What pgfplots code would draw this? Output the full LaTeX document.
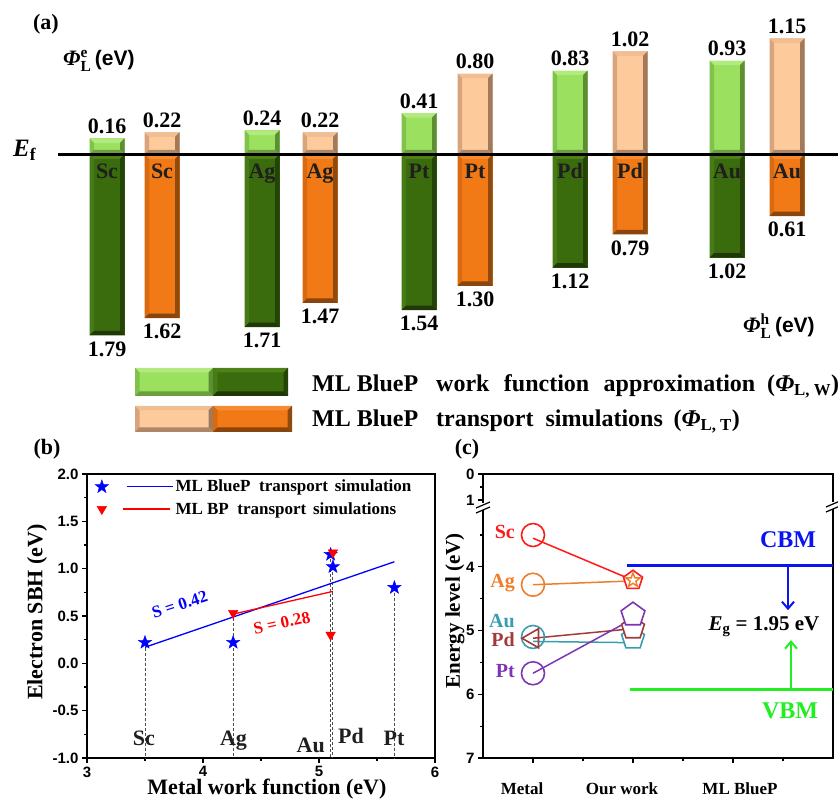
\documentclass[border=0pt]{standalone}
\usepackage{fontspec}
\setmainfont{Liberation Serif}
\setsansfont{Liberation Sans}
\usepackage{amsmath}
\usepackage{pgfplots}
\pgfplotsset{compat=1.18}
\usetikzlibrary{arrows.meta,plotmarks}

% bevelled bar colours: face, top, left, right, bottom
\definecolor{lgF}{HTML}{9BE05E}\definecolor{lgT}{HTML}{B2EA80}\definecolor{lgL}{HTML}{80C24C}\definecolor{lgR}{HTML}{5D8E36}\definecolor{lgB}{HTML}{6A9E3E}
\definecolor{dgF}{HTML}{3A6B0C}\definecolor{dgT}{HTML}{4E8219}\definecolor{dgL}{HTML}{477B15}\definecolor{dgR}{HTML}{244306}\definecolor{dgB}{HTML}{1E3905}
\definecolor{pkF}{HTML}{FDCB9B}\definecolor{pkT}{HTML}{F0BE92}\definecolor{pkL}{HTML}{D8A47E}\definecolor{pkR}{HTML}{A17A5B}\definecolor{pkB}{HTML}{B08766}
\definecolor{orF}{HTML}{F27A16}\definecolor{orT}{HTML}{F58C34}\definecolor{orL}{HTML}{DA6A10}\definecolor{orR}{HTML}{8F4A10}\definecolor{orB}{HTML}{8A440C}
% metal colours
\definecolor{cSc}{HTML}{FF1A1A}\definecolor{cAg}{HTML}{F07D28}\definecolor{cAu}{HTML}{3A9DAE}
\definecolor{cPd}{HTML}{A33A3A}\definecolor{cPt}{HTML}{7B35B5}
\definecolor{cCBM}{HTML}{0A14F0}\definecolor{cVBM}{HTML}{22EE22}

\newlength\bv
\setlength\bv{4.5pt}
\tikzset{
  bevel/.style n args={5}{fill=#1, draw=none,
    path picture={
      \fill[path picture={}, #2] (path picture bounding box.north west) -- (path picture bounding box.north east)
         -- ([shift={(-\bv,-\bv)}]path picture bounding box.north east)
         -- ([shift={(\bv,-\bv)}]path picture bounding box.north west) -- cycle;
      \fill[path picture={}, #3] (path picture bounding box.north west) -- ([shift={(\bv,-\bv)}]path picture bounding box.north west)
         -- ([shift={(\bv,\bv)}]path picture bounding box.south west) -- (path picture bounding box.south west) -- cycle;
      \fill[path picture={}, #4] (path picture bounding box.north east) -- (path picture bounding box.south east)
         -- ([shift={(-\bv,\bv)}]path picture bounding box.south east)
         -- ([shift={(-\bv,-\bv)}]path picture bounding box.north east) -- cycle;
      \fill[path picture={}, #5] (path picture bounding box.south west) -- (path picture bounding box.south east)
         -- ([shift={(-\bv,\bv)}]path picture bounding box.south east)
         -- ([shift={(\bv,\bv)}]path picture bounding box.south west) -- cycle;
    }},
  lgbar/.style={bevel={lgF}{lgT}{lgL}{lgR}{lgB}},
  dgbar/.style={bevel={dgF}{dgT}{dgL}{dgR}{dgB}},
  pkbar/.style={bevel={pkF}{pkT}{pkL}{pkR}{pkB}},
  orbar/.style={bevel={orF}{orT}{orL}{orR}{orB}},
  vlab/.style={font=\fontsize{22}{22}\selectfont\bfseries, inner sep=0pt},
  mlab/.style={font=\fontsize{22}{22}\selectfont\bfseries, inner sep=0pt, text=black!88},
  plab/.style={font=\fontsize{22}{22}\selectfont\bfseries, inner sep=0pt},
}

% filled and open five-pointed stars
\pgfdeclareplotmark{fstar}{%
  \pgfpathmoveto{\pgfpointpolar{90}{\pgfplotmarksize}}%
  \pgfpathlineto{\pgfpointpolar{126}{0.4\pgfplotmarksize}}%
  \pgfpathlineto{\pgfpointpolar{162}{\pgfplotmarksize}}%
  \pgfpathlineto{\pgfpointpolar{198}{0.4\pgfplotmarksize}}%
  \pgfpathlineto{\pgfpointpolar{234}{\pgfplotmarksize}}%
  \pgfpathlineto{\pgfpointpolar{270}{0.4\pgfplotmarksize}}%
  \pgfpathlineto{\pgfpointpolar{306}{\pgfplotmarksize}}%
  \pgfpathlineto{\pgfpointpolar{342}{0.4\pgfplotmarksize}}%
  \pgfpathlineto{\pgfpointpolar{18}{\pgfplotmarksize}}%
  \pgfpathlineto{\pgfpointpolar{54}{0.4\pgfplotmarksize}}%
  \pgfpathclose\pgfusepathqfillstroke}
\pgfdeclareplotmark{ostar}{%
  \pgfpathmoveto{\pgfpointpolar{90}{\pgfplotmarksize}}%
  \pgfpathlineto{\pgfpointpolar{126}{0.4\pgfplotmarksize}}%
  \pgfpathlineto{\pgfpointpolar{162}{\pgfplotmarksize}}%
  \pgfpathlineto{\pgfpointpolar{198}{0.4\pgfplotmarksize}}%
  \pgfpathlineto{\pgfpointpolar{234}{\pgfplotmarksize}}%
  \pgfpathlineto{\pgfpointpolar{270}{0.4\pgfplotmarksize}}%
  \pgfpathlineto{\pgfpointpolar{306}{\pgfplotmarksize}}%
  \pgfpathlineto{\pgfpointpolar{342}{0.4\pgfplotmarksize}}%
  \pgfpathlineto{\pgfpointpolar{18}{\pgfplotmarksize}}%
  \pgfpathlineto{\pgfpointpolar{54}{0.4\pgfplotmarksize}}%
  \pgfpathclose\pgfusepathqstroke}

% one metal: x, Phi_e, Phi_h, name, upper style, lower style
\newcommand{\barcol}[6]{%
  \addplot[ybar, bar width=35, bar shift=0pt, #5] coordinates {(#1,#2)};
  \addplot[ybar, bar width=35, bar shift=0pt, #6] coordinates {(#1,-#3)};
  \node[vlab, anchor=base, yshift=5pt] at (axis cs:#1,#2) {#2};
  \node[vlab, anchor=north, yshift=-6pt] at (axis cs:#1,-#3) {#3};
  \node[mlab, anchor=base, yshift=-24.5pt] at (axis cs:#1,0) {#4};
}
\newcommand{\Phib}{\text{\bfseries\itshape Φ}}

\begin{document}
\begin{tikzpicture}[x=1pt,y=1pt]
\useasboundingbox (0,0) rectangle (838,803);

% ---------------- (a) barrier heights ----------------
\begin{axis}[at={(0pt,383pt)}, anchor=south west, scale only axis,
  width=838pt, height=420pt, xmin=0, xmax=838, ymin=-2.62871, ymax=1.52970,
  hide axis, clip=false]
  \barcol{107}{0.16}{1.79}{Sc}{lgbar}{dgbar}
  \barcol{162}{0.22}{1.62}{Sc}{pkbar}{orbar}
  \barcol{262}{0.24}{1.71}{Ag}{lgbar}{dgbar}
  \barcol{320}{0.22}{1.47}{Ag}{pkbar}{orbar}
  \barcol{419}{0.41}{1.54}{Pt}{lgbar}{dgbar}
  \barcol{475}{0.80}{1.30}{Pt}{pkbar}{orbar}
  \barcol{570}{0.83}{1.12}{Pd}{lgbar}{dgbar}
  \barcol{630}{1.02}{0.79}{Pd}{pkbar}{orbar}
  \barcol{727}{0.93}{1.02}{Au}{lgbar}{dgbar}
  \barcol{787}{1.15}{0.61}{Au}{pkbar}{orbar}
  % Fermi level
  \addplot[black, line width=3pt] coordinates {(58,0) (838,0)};
  % legend swatches
  \addplot[lgbar] coordinates {(135,-2.1139)(213,-2.1139)(213,-2.3911)(135,-2.3911)};
  \addplot[dgbar] coordinates {(213,-2.1139)(288,-2.1139)(288,-2.3911)(213,-2.3911)};
  \addplot[pkbar] coordinates {(135,-2.4901)(213,-2.4901)(213,-2.7475)(135,-2.7475)};
  \addplot[orbar] coordinates {(213,-2.4901)(292,-2.4901)(292,-2.7475)(213,-2.7475)};
\end{axis}

\node[plab] at (46,779) {(a)};
\node[plab, anchor=base west] at (63,737) {$\Phib^{\text{\bfseries e}}_{\text{\bfseries L}}$\,{\sffamily\bfseries\fontsize{21}{21}\selectfont (eV)}};
\node[anchor=base west, inner sep=0pt, font=\fontsize{25}{25}\selectfont\bfseries] at (13,646) {\textit{E}$_{\text{\bfseries f}}$};
\node[plab, anchor=base west] at (743,470) {$\Phib^{\text{\bfseries h}}_{\text{\bfseries L}}$\,{\sffamily\bfseries\fontsize{21}{21}\selectfont (eV)}};
\node[anchor=base west, inner sep=0pt, font=\fontsize{24}{24}\selectfont\bfseries] at (312,411)
  {ML BlueP\hspace{0.75em}work\hspace{0.6em}function\hspace{0.6em}approximation\hspace{0.5em}($\Phib_{\text{\bfseries L, W}}$)};
\node[anchor=base west, inner sep=0pt, font=\fontsize{24}{24}\selectfont\bfseries] at (312,376)
  {ML BlueP\hspace{0.75em}transport\hspace{0.5em}simulations\hspace{0.45em}($\Phib_{\text{\bfseries L, T}}$)};

% ---------------- (b) SBH vs metal work function ----------------
\node[plab] at (47,354) {(b)};
\begin{axis}[at={(87pt,45pt)}, anchor=south west, scale only axis,
  width=348pt, height=284pt, xmin=3, xmax=6, ymin=-1, ymax=2,
  xtick={3,4,5,6}, ytick={-1,-0.5,0,0.5,1,1.5,2},
  minor x tick num=1, minor y tick num=1,
  tick align=outside, tick pos=left,
  major tick length=5pt, minor tick length=3pt,
  axis line style={line width=1.5pt},
  every tick/.style={line width=1.2pt, black},
  /pgf/number format/assume math mode=true,
  tick label style={font=\sffamily\bfseries\fontsize{15}{15}\selectfont},
  yticklabel style={/pgf/number format/.cd, fixed, fixed zerofill, precision=1},
  xlabel={Metal work function (eV)},
  ylabel={Electron SBH (eV)},
  label style={font=\fontsize{22}{22}\selectfont\bfseries, inner sep=0pt},
  xlabel style={at={(axis description cs:0.517,-0.11)}, anchor=center},
  ylabel style={at={(axis description cs:-0.1437,0.514)}, anchor=center},
  clip=false,
  legend style={at={(axis description cs:0,1)}, anchor=north west, draw=none, fill=none,
    inner xsep=8pt, inner ysep=4pt, row sep=5pt,
    font=\fontsize{17}{17}\selectfont\bfseries},
  legend cell align=left]
  % drop lines to the work function axis
  \addplot[densely dashed, black!70, line width=0.9pt, forget plot] coordinates {(3.5,0.22)(3.5,-1)};
  \addplot[densely dashed, black!70, line width=0.9pt, forget plot] coordinates {(4.26,0.53)(4.26,-1)};
  \addplot[densely dashed, black!70, line width=0.9pt, forget plot] coordinates {(5.1,1.15)(5.1,-1)};
  \addplot[densely dashed, black!70, line width=0.9pt, forget plot] coordinates {(5.12,1.02)(5.12,-1)};
  \addplot[densely dashed, black!70, line width=0.9pt, forget plot] coordinates {(5.65,0.80)(5.65,-1)};
  % linear fits
  \addplot[blue, line width=1.3pt, forget plot] coordinates {(3.5,0.17)(5.65,1.073)};
  \addplot[red, line width=1.3pt, forget plot] coordinates {(4.26,0.52)(5.12,0.76)};
  % ML BlueP: Sc, Ag, Au, Pd, Pt
  \addplot[only marks, mark=fstar, mark size=7pt, blue, mark options={fill=blue}, forget plot]
    coordinates {(3.5,0.22)(4.26,0.22)(5.1,1.15)(5.12,1.02)(5.65,0.80)};
  % ML BP: Ag, Au, Pd
  \addplot[only marks, mark=triangle*, mark size=5.5pt, red, mark options={rotate=180, fill=red}, forget plot]
    coordinates {(4.26,0.53)(5.1,0.30)(5.12,1.17)};
  \addlegendimage{legend image code/.code={
      \path[mark=fstar, mark size=7pt, mark options={fill=blue, draw=blue}] plot coordinates {(0pt,0pt)};
      \draw[blue, line width=1.3pt] (25pt,0pt) -- (71pt,0pt);}}
  \addlegendentry{ML BlueP\hspace{0.5em}transport\hspace{0.4em}simulation}
  \addlegendimage{legend image code/.code={
      \path[mark=triangle*, mark size=5.5pt, mark options={rotate=180, fill=red, draw=red}] plot coordinates {(0pt,0pt)};
      \draw[red, line width=1.3pt] (21pt,0pt) -- (68pt,0pt);}}
  \addlegendentry{ML BP\hspace{0.5em}transport\hspace{0.4em}simulations}
  % labels
  \node[mlab, anchor=base] at (axis cs:3.49,-0.863) {Sc};
  \node[mlab, anchor=base] at (axis cs:4.263,-0.863) {Ag};
  \node[mlab, anchor=base east] at (axis cs:5.052,-0.947) {Au};
  \node[mlab, anchor=base west] at (axis cs:5.164,-0.842) {Pd};
  \node[mlab, anchor=base] at (axis cs:5.647,-0.863) {Pt};
  \node[blue, rotate=18, inner sep=0pt, font=\fontsize{17}{17}\selectfont\bfseries] at (axis cs:3.80,0.62) {S = 0.42};
  \node[red, rotate=12, inner sep=0pt, font=\fontsize{17}{17}\selectfont\bfseries] at (axis cs:4.68,0.426) {S = 0.28};
\end{axis}

% ---------------- (c) band alignment ----------------
\node[plab] at (467,354) {(c)};
\begin{axis}[at={(483pt,45pt)}, anchor=south west, scale only axis,
  width=350pt, height=284pt, xmin=0, xmax=7, ymin=2.542, ymax=7, y dir=reverse,
  xtick={1,3,5}, minor xtick={2,4,6}, xticklabels={},
  ytick={2.542,2.95,4,5,6,7}, yticklabels={0,1,4,5,6,7},
  minor ytick={2.746,3.5,4.5,5.5,6.5},
  tick align=outside, tick pos=left,
  major tick length=5pt, minor tick length=3pt,
  axis line style={line width=1.5pt},
  every tick/.style={line width=1.2pt, black},
  tick label style={font=\sffamily\bfseries\fontsize{15}{15}\selectfont},
  ylabel={Energy level (eV)},
  ylabel style={font=\fontsize{21}{21}\selectfont\bfseries, at={(axis description cs:-0.08,0.518)}, anchor=center},
  clip=false]
  % band edges of ML BlueP
  \addplot[cCBM, line width=3pt] coordinates {(2.88,3.98)(7,3.98)};
  \addplot[cVBM, line width=3pt] coordinates {(2.94,5.93)(7,5.93)};
  % Fermi levels obtained in this work
  \addplot[only marks, mark=pentagon*, mark size=12pt, cAu, line width=1.6pt, mark options={fill=white}] coordinates {(3,5.12)};
  \addplot[only marks, mark=pentagon*, mark size=12pt, cPd, line width=1.6pt, mark options={fill=white}] coordinates {(3,4.96)};
  \addplot[only marks, mark=pentagon*, mark size=12.5pt, cPt, line width=1.6pt, mark options={fill=white}] coordinates {(3,4.75)};
  \addplot[only marks, mark=pentagon*, mark size=10pt, cSc, line width=1.6pt, mark options={fill=white}] coordinates {(3,4.21)};
  \addplot[only marks, mark=ostar, mark size=7.5pt, cAg, line width=1.4pt] coordinates {(3,4.21)};
  % metal work functions
  \addplot[only marks, mark=o, mark size=11.5pt, cSc, line width=1.6pt] coordinates {(1,3.5)};
  \addplot[only marks, mark=o, mark size=11.5pt, cAg, line width=1.6pt] coordinates {(1,4.28)};
  \addplot[only marks, mark=o, mark size=11.5pt, cAu, line width=1.6pt] coordinates {(1,5.10)};
  \addplot[only marks, mark=triangle, mark size=11pt, cPd, line width=1.6pt, mark options={rotate=90}] coordinates {(1,5.12)};
  \addplot[only marks, mark=o, mark size=11.5pt, cPt, line width=1.6pt] coordinates {(1,5.67)};
  % connecting lines
  \addplot[cSc, line width=1.5pt] coordinates {(1,3.55)(3,4.21)};
  \addplot[cAg, line width=1.5pt] coordinates {(1,4.28)(3,4.22)};
  \addplot[cAu, line width=1.5pt] coordinates {(1,5.17)(3,5.19)};
  \addplot[cPd, line width=1.5pt] coordinates {(1,5.12)(3,4.97)};
  \addplot[cPt, line width=1.5pt] coordinates {(1,5.67)(3.2,4.73)};
  % gap arrows
  \draw[cCBM, line width=2pt, -{Straight Barb[length=7pt, width=12pt]}] (axis cs:6.1,3.98) -- (axis cs:6.1,4.68);
  \draw[cVBM, line width=2pt, -{Straight Barb[length=7pt, width=12pt]}] (axis cs:6.16,5.93) -- (axis cs:6.16,5.15);
  % text
  \node[cCBM, font=\fontsize{24}{24}\selectfont\bfseries] at (axis cs:6.1,3.578) {CBM};
  \node[cVBM, font=\fontsize{24}{24}\selectfont\bfseries] at (axis cs:6.14,6.262) {VBM};
  \node[font=\fontsize{21}{21}\selectfont\bfseries] at (axis cs:5.62,4.94) {\textit{E}$_{\text{\bfseries g}}$ = 1.95 eV};
  \node[cSc, font=\fontsize{20}{20}\selectfont\bfseries, anchor=base east, inner sep=0pt] at (axis cs:0.64,3.562) {Sc};
  \node[cAg, font=\fontsize{20}{20}\selectfont\bfseries, anchor=base east, inner sep=0pt] at (axis cs:0.64,4.331) {Ag};
  \node[cAu, font=\fontsize{20}{20}\selectfont\bfseries, anchor=base east, inner sep=0pt] at (axis cs:0.64,4.959) {Au};
  \node[cPd, font=\fontsize{20}{20}\selectfont\bfseries, anchor=base east, inner sep=0pt] at (axis cs:0.64,5.257) {Pd};
  \node[cPt, font=\fontsize{20}{20}\selectfont\bfseries, anchor=base east, inner sep=0pt] at (axis cs:0.64,5.744) {Pt};
  \node[font=\fontsize{17}{17}\selectfont\bfseries, anchor=base, inner sep=0pt] at (axis cs:0.78,7.58) {Metal};
  \node[font=\fontsize{17}{17}\selectfont\bfseries, anchor=base, inner sep=0pt] at (axis cs:2.78,7.58) {Our work};
  \node[font=\fontsize{17}{17}\selectfont\bfseries, anchor=base, inner sep=0pt] at (axis cs:5.14,7.58) {ML BlueP};
\end{axis}

% axis break marks on the energy axis
\fill[white] (477,293) rectangle (489,300);
\draw[line width=1.2pt] (476,295) -- (490,301);
\draw[line width=1.2pt] (476,290) -- (490,296);
\fill[white] (827,294) rectangle (839,301);
\draw[line width=1.2pt] (826,296) -- (840,302);
\draw[line width=1.2pt] (826,291) -- (840,297);
\end{tikzpicture}
\end{document}
